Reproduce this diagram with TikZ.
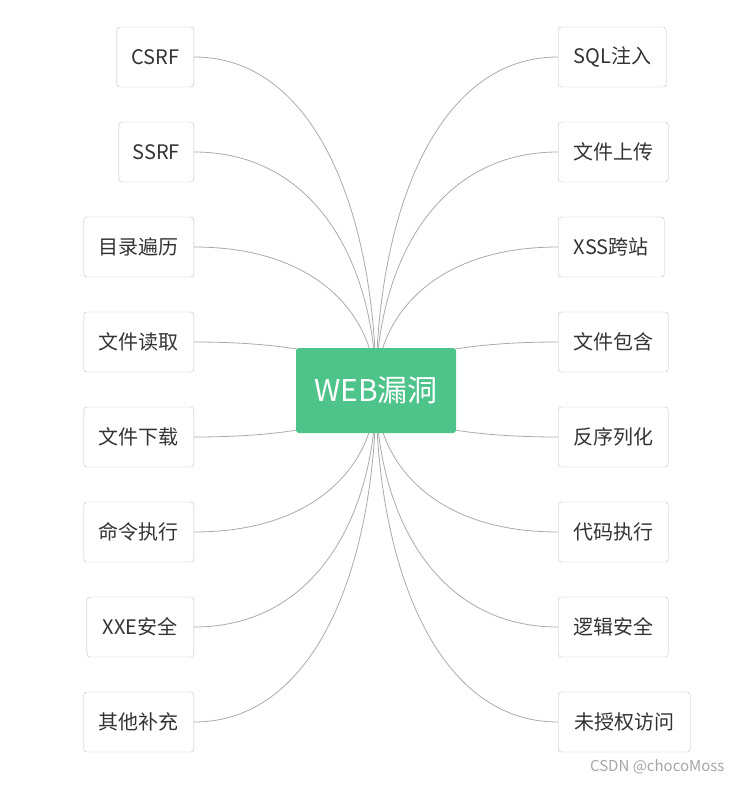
\documentclass[tikz,border=0pt]{standalone}
\usepackage{fontspec}
\setmainfont{Noto Sans CJK SC}
\usetikzlibrary{positioning}
\definecolor{colhub}{RGB}{78,195,138}
\definecolor{colline}{RGB}{170,170,170}
\definecolor{colbox}{RGB}{190,190,190}
\tikzset{
	leaf/.style={draw=colbox, rounded corners=3pt, minimum height=60pt, inner sep=0pt,
		font=\fontsize{20}{24}\selectfont, text=black!80},
	link/.style={draw=colline, line width=0.8pt}
}
\begin{document}
\begin{tikzpicture}[x=1pt, y=-1pt]
	\useasboundingbox (0,0) rectangle (742,786);
	\coordinate (hubc) at (376,390);
	% left branch
	\foreach \label/\bw/\yy [count=\d] in {CSRF/77/57, SSRF/75/152, 目录遍历/110/247, 文件读取/110/342,
		文件下载/110/437, 命令执行/110/532, XXE安全/107/627, 其他补充/110/722} {
		\node[leaf, minimum width=\bw pt, anchor=east] (l\d) at (194,\yy) {\label};
		\draw[link] (l\d.east) .. controls (320,\yy) and (376,{(\yy+390)/2}) .. (hubc);
	}
	% right branch
	\foreach \label/\bw/\yy [count=\d] in {SQL注入/108/57, 文件上传/110/152, XSS跨站/106/247, 文件包含/110/342,
		反序列化/110/437, 代码执行/110/532, 逻辑安全/110/627, 未授权访问/132/722} {
		\node[leaf, minimum width=\bw pt, anchor=west] (r\d) at (558,\yy) {\label};
		\draw[link] (r\d.west) .. controls (432,\yy) and (376,{(\yy+390)/2}) .. (hubc);
	}
	\node[fill=colhub, rounded corners=3pt, minimum width=160pt, minimum height=85pt,
		text=white, font=\fontsize{30}{36}\selectfont] (hub) at (376,390.5) {WEB漏洞};
	\node[text=black!35, font=\fontsize{15}{18}\selectfont, anchor=east] (mark) at (728,767) {CSDN @chocoMoss};
\end{tikzpicture}
\end{document}
